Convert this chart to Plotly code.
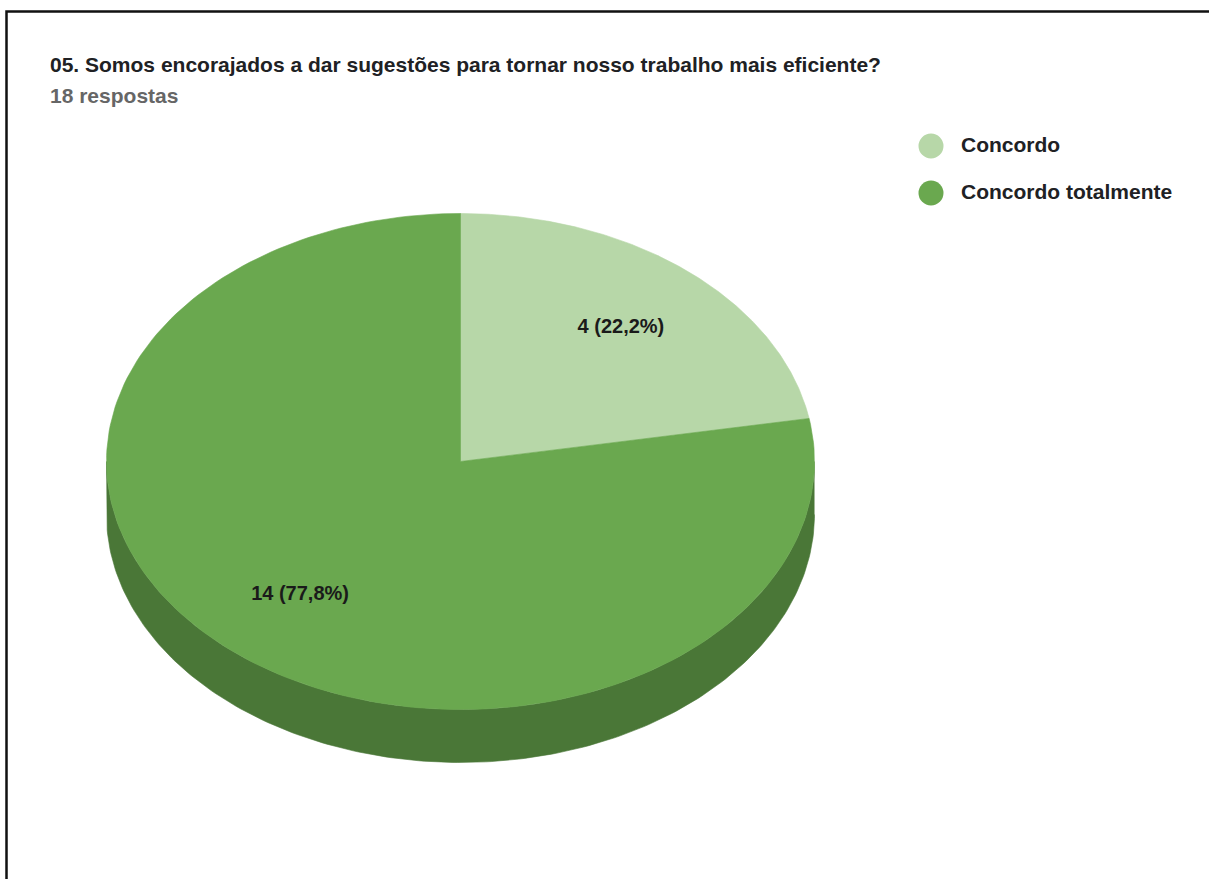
import numpy as np
import plotly.graph_objects as go

# Survey answers
categories = ["Concordo", "Concordo totalmente"]
counts = [4, 14]
title_text = "05. Somos encorajados a dar sugestões para tornar nosso trabalho mais eficiente?"
subtitle_text = "18 respostas"

top_colors = ["#b7d7a8", "#6aa84f"]
side_colors = ["#7f9a73", "#4a7737"]

FONT = "Liberation Sans, Arial, sans-serif"

# Canvas (pixel-space axes)
W, H = 1209, 879
CX, CY = 460.5, 461.5      # pie centre
RX, RY = 354.0, 248.0      # ellipse radii of the tilted top face
DEPTH = 53.0               # thickness of the 3D rim
LABEL_R = 0.705            # label radius as a fraction of the pie radius


def ellipse_pts(a0, a1, dy=0.0, n=200):
    ang = np.radians(np.linspace(a0, a1, n))
    return CX + RX * np.sin(ang), CY - RY * np.cos(ang) + dy


fig = go.Figure()
total = sum(counts)
angles = np.concatenate([[0], np.cumsum(counts) / total * 360.0])

# Visible rim (front half: 90..270 deg clockwise from top)
for i, c in enumerate(categories):
    s0, s1 = max(angles[i], 90.0), min(angles[i + 1], 270.0)
    if s1 > s0:
        xt, yt = ellipse_pts(s0, s1)
        xb, yb = ellipse_pts(s0, s1, dy=DEPTH)
        fig.add_trace(go.Scatter(
            x=np.concatenate([xt, xb[::-1]]), y=np.concatenate([yt, yb[::-1]]),
            fill="toself", fillcolor=side_colors[i], mode="lines",
            line=dict(width=0.6, color=side_colors[i]), hoverinfo="skip", showlegend=False))

# Top faces
for i, c in enumerate(categories):
    xs, ys = ellipse_pts(angles[i], angles[i + 1])
    fig.add_trace(go.Scatter(
        x=np.concatenate([[CX], xs, [CX]]), y=np.concatenate([[CY], ys, [CY]]),
        fill="toself", fillcolor=top_colors[i], mode="lines",
        line=dict(width=0.6, color=top_colors[i]), hoverinfo="skip", showlegend=False))

# Slice value labels
mids = (angles[:-1] + angles[1:]) / 2
lx = [CX + LABEL_R * RX * np.sin(np.radians(m)) for m in mids]
ly = [CY - LABEL_R * RY * np.cos(np.radians(m)) for m in mids]
labels = [f"<b>{v} ({v / total * 100:.1f}%)</b>".replace(".", ",") for v in counts]
fig.add_trace(go.Scatter(
    x=lx, y=ly, mode="text", text=labels,
    textfont=dict(family=FONT, size=20, color="#1a1a1a"),
    textposition="middle center", hoverinfo="skip", showlegend=False))

annotations = [
    dict(text=f"<b>{title_text}</b>", x=48 / W, y=1 - 65 / H, xref="paper", yref="paper",
         xanchor="left", yanchor="middle", showarrow=False,
         font=dict(family=FONT, size=21, color="#202124")),
    dict(text=f"<b>{subtitle_text}</b>", x=48 / W, y=1 - 95 / H, xref="paper", yref="paper",
         xanchor="left", yanchor="middle", showarrow=False,
         font=dict(family=FONT, size=21, color="#666666")),
]

shapes = [
    # outer frame
    dict(type="rect", xref="paper", yref="paper", x0=6.5 / W, x1=1.05, y0=-0.05, y1=1 - 11.5 / H,
         line=dict(color="#111111", width=2.5), fillcolor="rgba(0,0,0,0)", layer="above"),
]

# Legend
LEG_X, LEG_Y, LEG_STEP, LEG_R = 931, 146, 47, 12.5
for i, c in enumerate(categories):
    yc = LEG_Y + i * LEG_STEP
    shapes.append(dict(type="circle", xref="x", yref="y",
                       x0=LEG_X - LEG_R, x1=LEG_X + LEG_R, y0=yc - LEG_R, y1=yc + LEG_R,
                       fillcolor=top_colors[i], line=dict(width=0)))
    annotations.append(dict(text=f"<b>{c}</b>", x=959, y=yc - 2, xref="x", yref="y",
                            xanchor="left", yanchor="middle", showarrow=False,
                            font=dict(family=FONT, size=21, color="#202124")))

fig.update_layout(
    width=W, height=H, margin=dict(l=0, r=0, t=0, b=0),
    paper_bgcolor="white", plot_bgcolor="white",
    xaxis=dict(range=[0, W], visible=False, fixedrange=True),
    yaxis=dict(range=[H, 0], visible=False, fixedrange=True),
    annotations=annotations, shapes=shapes, showlegend=False,
)

fig.write_html("out.html")
